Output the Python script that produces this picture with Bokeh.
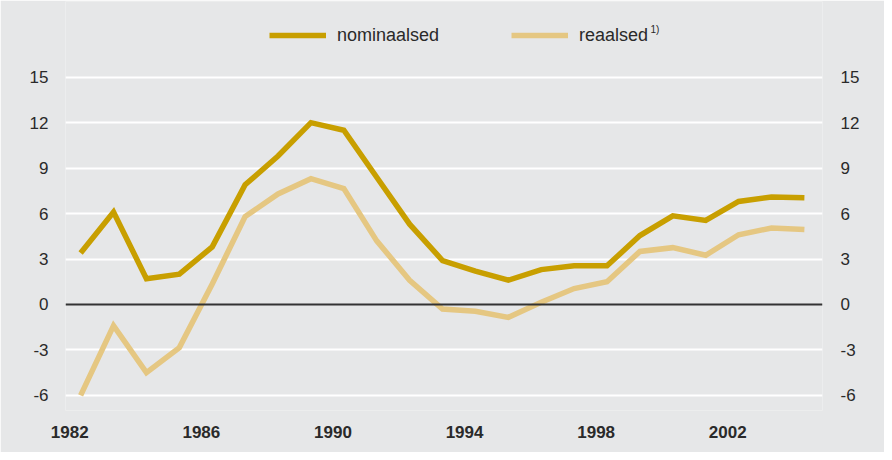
from bokeh.plotting import figure
from bokeh.models import (LinearAxis, FixedTicker, Range1d, Span, Legend, LegendItem, Label)
from bokeh.embed import file_html
from bokeh.resources import INLINE

years = list(range(1982, 2005))
nominaalsed = [3.4, 6.1, 1.7, 2.0, 3.8, 7.9, 9.8, 12.0, 11.5, 8.4, 5.3, 2.9,
               2.2, 1.6, 2.3, 2.55, 2.55, 4.55, 5.85, 5.55, 6.8, 7.1, 7.05]
reaalsed = [-6.0, -1.4, -4.5, -2.85, 1.35, 5.8, 7.3, 8.3, 7.65, 4.2, 1.6, -0.3,
            -0.45, -0.85, 0.15, 1.05, 1.5, 3.5, 3.75, 3.25, 4.6, 5.05, 4.95]
y_ticks = [-6, -3, 0, 3, 6, 9, 12, 15]
x_tick_years = [1982, 1986, 1990, 1994, 1998, 2002]
legend_labels = ["nominaalsed", "reaalsed"]
footnote_mark = "1)"

BG = "#e6e7e8"
TXT = "#2a2a2a"
C_NOM = "#c89f00"
C_REAL = "#e5c782"
FONT = "Liberation Sans"

p = figure(width=884, height=452, output_backend="svg", toolbar_location=None,
           x_range=Range1d(1981.54, 2004.55), y_range=Range1d(-7, 20),
           min_border_left=65, min_border_right=62, min_border_top=1,
           min_border_bottom=42,
           background_fill_color=BG, border_fill_color=BG, outline_line_color=None)

r_real = p.line(years, reaalsed, line_color=C_REAL, line_width=5.5, line_join="miter")
r_nom = p.line(years, nominaalsed, line_color=C_NOM, line_width=5.5, line_join="miter")

# axes
y_labels = {t: str(t) for t in y_ticks}
p.yaxis.ticker = FixedTicker(ticks=y_ticks)
right = LinearAxis(ticker=FixedTicker(ticks=y_ticks))
p.add_layout(right, "right")
for ax in [p.yaxis[0], right]:
    ax.major_label_overrides = y_labels
    ax.axis_line_color = None
    ax.major_tick_line_color = None
    ax.minor_tick_line_color = None
    ax.major_label_text_font = FONT
    ax.major_label_text_font_size = "17px"
    ax.major_label_text_color = TXT
p.yaxis[0].major_label_standoff = 11
right.major_label_standoff = 12

offs = 0.33
p.xaxis.ticker = FixedTicker(ticks=[y - offs for y in x_tick_years])
p.xaxis.major_label_overrides = {y - offs: str(y) for y in x_tick_years}
p.xaxis.axis_line_color = None
p.xaxis.major_tick_line_color = None
p.xaxis.minor_tick_line_color = None
p.xaxis.major_label_text_font = FONT
p.xaxis.major_label_text_font_size = "17px"
p.xaxis.major_label_text_font_style = "bold"
p.xaxis.major_label_text_color = TXT
p.xaxis.major_label_standoff = 9

p.xgrid.grid_line_color = None
p.ygrid.ticker = FixedTicker(ticks=[t for t in y_ticks if t != 0])
p.ygrid.grid_line_color = "white"
p.ygrid.grid_line_width = 2

p.add_layout(Span(location=0, dimension="width", line_color="#333333", line_width=2))

legend = Legend(items=[LegendItem(label=legend_labels[0], renderers=[r_nom]),
                       LegendItem(label=legend_labels[1], renderers=[r_real])],
                orientation="horizontal", location=(204, 364),
                background_fill_alpha=0, border_line_alpha=0,
                padding=0, margin=0, glyph_width=57, glyph_height=22,
                label_standoff=11, spacing=72,
                label_text_font=FONT, label_text_font_size="18px",
                label_text_color=TXT)
p.add_layout(legend, "center")

p.add_layout(Label(x=585, y=381, x_units="screen", y_units="screen",
                   text=footnote_mark, text_font=FONT, text_font_size="10px",
                   text_color=TXT, text_baseline="alphabetic"))

open("out.html", "w").write(file_html(p, INLINE))
